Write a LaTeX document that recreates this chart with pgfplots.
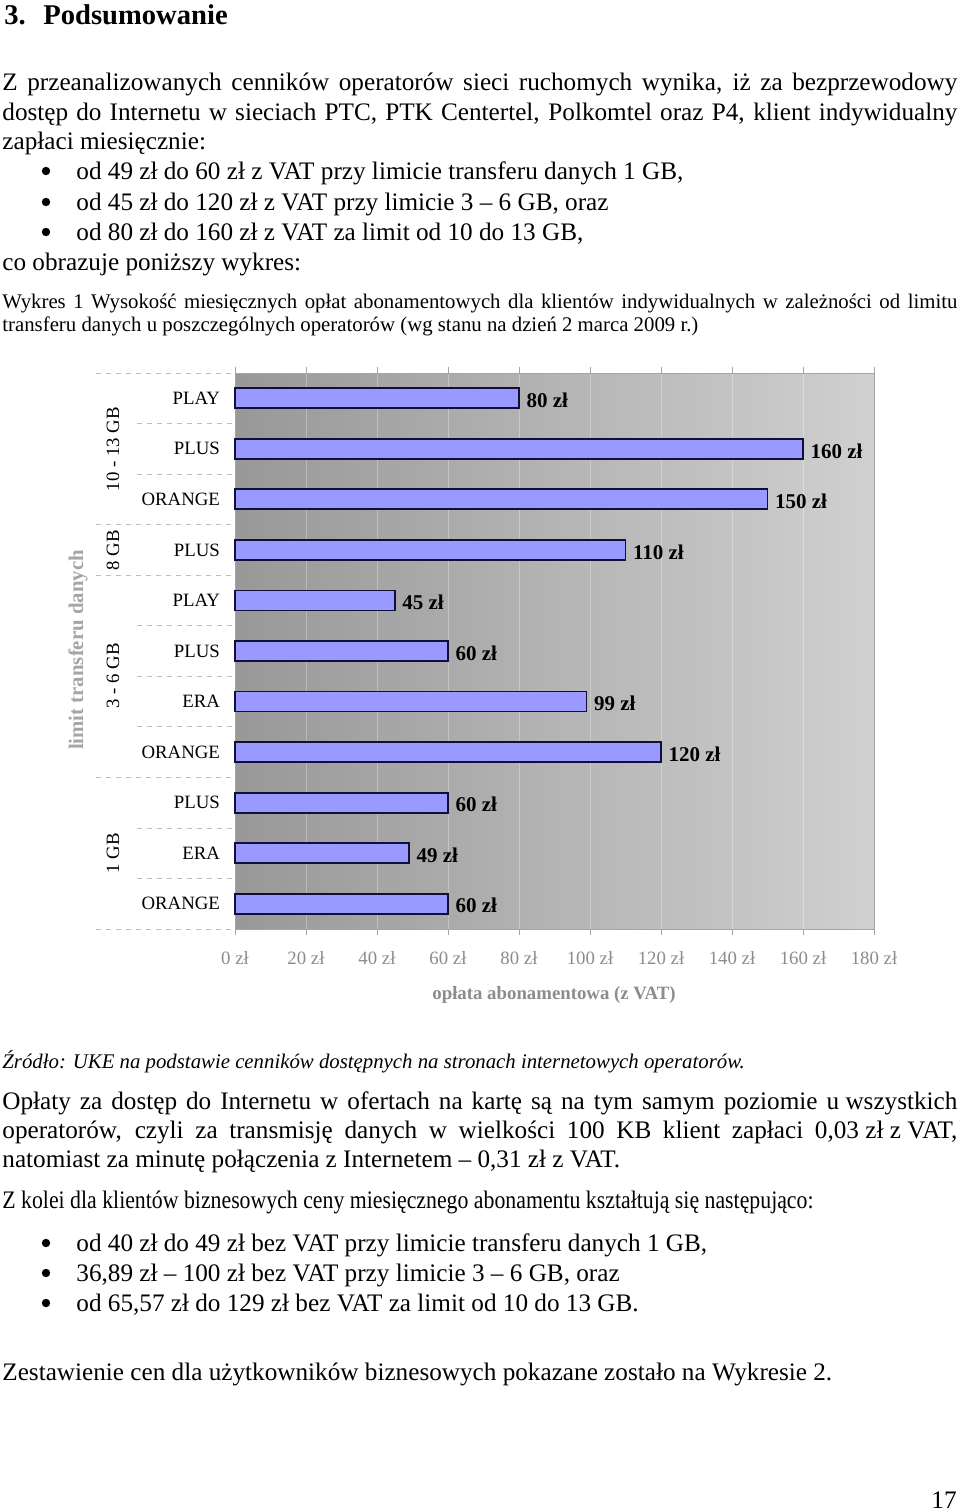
\documentclass[border=0pt]{standalone}
\usepackage{fontspec}
\setmainfont{Liberation Serif}
\usepackage{graphicx}
\usepackage{pgfplots}
\pgfplotsset{compat=1.18}

\definecolor{barfill}{RGB}{153,153,255}
\definecolor{barline}{RGB}{15,15,55}
\definecolor{tgray}{RGB}{140,140,140}
\definecolor{lgray}{RGB}{165,165,165}
\definecolor{bgl}{RGB}{152,152,152}
\definecolor{bgr}{RGB}{208,208,208}
\definecolor{dashgray}{RGB}{190,190,190}

\newcommand\body{\fontsize{12.6}{14.5}\selectfont}
\newcommand\capt{\fontsize{10.4}{11.5}\selectfont}
\newcommand\chart{\fontsize{9.4}{11}\selectfont}

\begin{document}
\begin{tikzpicture}[tx/.style={anchor=base west, inner sep=0pt}]
\begin{scope}[x=0.5pt,y=-0.5pt]
\path[use as bounding box, fill=white] (0,0) rectangle (960,1512);

% heading
\node[tx, font=\bfseries\fontsize{14.3}{16}\selectfont] at (4,24) {3.};
\node[tx, font=\bfseries\fontsize{14.3}{16}\selectfont] at (43,24) {Podsumowanie};

% first paragraph
\node[tx, font=\body] at (2,90) {\makebox[477.5pt][s]{Z przeanalizowanych cenników operatorów sieci ruchomych wynika, iż za bezprzewodowy}};
\node[tx, font=\body] at (2,120) {\makebox[477.5pt][s]{dostęp do Internetu w sieciach PTC, PTK Centertel, Polkomtel oraz P4, klient indywidualny}};
\node[tx, font=\body] at (2,149) {zapłaci miesięcznie:};
\node[tx, font=\body] at (76,179) {od 49 zł do 60 zł z VAT przy limicie transferu danych 1 GB,};
\node[tx, font=\body] at (76,210) {od 45 zł do 120 zł z VAT przy limicie 3 – 6 GB, oraz};
\node[tx, font=\body] at (76,240) {od 80 zł do 160 zł z VAT za limit od 10 do 13 GB,};
\node[tx, font=\body] at (2,270) {co obrazuje poniższy wykres:};
\foreach \b in {171,202,232,1243,1273,1303} \fill[black] (46,\b) circle (4.2);

% caption
\node[tx, font=\capt] at (2,308) {\makebox[477.5pt][s]{Wykres 1 Wysokość miesięcznych opłat abonamentowych dla klientów indywidualnych w zależności od limitu}};
\node[tx, font=\capt] at (2,331) {transferu danych u poszczególnych operatorów (wg stanu na dzień 2 marca 2009 r.)};

% chart side labels
\node[rotate=90, font=\chart, inner sep=0pt] at (113,449) {10 - 13 GB};
\node[rotate=90, font=\chart, inner sep=0pt] at (113,550) {8 GB};
\node[rotate=90, font=\chart, inner sep=0pt] at (113,676) {3 - 6 GB};
\node[rotate=90, font=\chart, inner sep=0pt] at (113,853) {1 GB};
\node[rotate=90, font=\fontsize{10.4}{12}\selectfont\bfseries, text=lgray, inner sep=0pt] at (78,650) {limit transferu danych};
\node[font=\chart\bfseries, text=tgray, inner sep=0pt] at (554,995) {opłata abonamentowa (z VAT)};

% text below the chart
\node[tx, font=\capt\itshape] at (2,1068) {Źródło: UKE na podstawie cenników dostępnych na stronach internetowych operatorów.};
\node[tx, font=\body] at (2,1109) {\makebox[477.5pt][s]{Opłaty za dostęp do Internetu w ofertach na kartę są na tym samym poziomie \mbox{u wszystkich}}};
\node[tx, font=\body] at (2,1138) {\makebox[477.5pt][s]{operatorów, czyli za transmisję danych w wielkości 100 KB klient zapłaci \mbox{0,03 zł z VAT,}}};
\node[tx, font=\body] at (2,1167) {natomiast za minutę połączenia z Internetem – 0,31 zł z VAT.};
\node[tx, font=\body] at (2,1208) {\scalebox{0.865}[1]{Z kolei dla klientów biznesowych ceny miesięcznego abonamentu kształtują się następująco:}};
\node[tx, font=\body] at (76,1251) {od 40 zł do 49 zł bez VAT przy limicie transferu danych 1 GB,};
\node[tx, font=\body] at (76,1281) {36,89 zł – 100 zł bez VAT przy limicie 3 – 6 GB, oraz};
\node[tx, font=\body] at (76,1311) {od 65,57 zł do 129 zł bez VAT za limit od 10 do 13 GB.};
\node[tx, font=\body] at (2,1380) {Zestawienie cen dla użytkowników biznesowych pokazane zostało na Wykresie 2.};
\node[anchor=base east, inner sep=0pt, font=\body] at (957,1508) {17};
\end{scope}

\begin{axis}[
  at={(117.5pt,-464.5pt)}, anchor=south west,
  scale only axis, width=319.5pt, height=278pt,
  xbar, bar width=10pt,
  xmin=0, xmax=180, ymin=-0.5, ymax=10.5, y dir=reverse,
  clip=false,
  /pgf/number format/assume math mode=true,
  axis background/.style={left color=bgl, right color=bgr},
  axis line style={draw=lgray},
  xmajorgrids, grid style={draw=white, draw opacity=0.3, line width=0.5pt},
  xtick={0,20,...,180},
  xticklabels={0 zł,20 zł,40 zł,60 zł,80 zł,100 zł,120 zł,140 zł,160 zł,180 zł},
  xticklabel style={font=\chart, text=tgray, yshift=-4.5pt},
  tick align=outside, major tick length=3pt,
  xtick style={draw=lgray},
  ytick={0,...,10},
  yticklabels={PLAY,PLUS,ORANGE,PLUS,PLAY,PLUS,ERA,ORANGE,PLUS,ERA,ORANGE},
  yticklabel style={font=\chart, xshift=-1pt},
  ytick style={draw=none},
  point meta=x,
  nodes near coords={\pgfmathprintnumber{\pgfplotspointmeta}~zł},
  every node near coord/.append style={font=\fontsize{10.5}{12}\selectfont\bfseries, anchor=west, yshift=-1pt},
]
\addplot[fill=barfill, draw=barline, line width=0.9pt] coordinates {
  (80,0) (160,1) (150,2) (110,3) (45,4) (60,5) (99,6) (120,7) (60,8) (49,9) (60,10)
};
% dashed row separators left of the plot
\pgfplotsinvokeforeach{0.5,1.5,4.5,5.5,6.5,8.5,9.5}{
  \draw[draw=dashgray, dash pattern=on 2.5pt off 2.5pt] (axis cs:-27.6,#1) -- (axis cs:0,#1);
}
\pgfplotsinvokeforeach{-0.5,2.5,3.5,7.5,10.5}{
  \draw[draw=dashgray, dash pattern=on 2.5pt off 2.5pt] (axis cs:-39.2,#1) -- (axis cs:0,#1);
}
\end{axis}
\end{tikzpicture}
\end{document}
